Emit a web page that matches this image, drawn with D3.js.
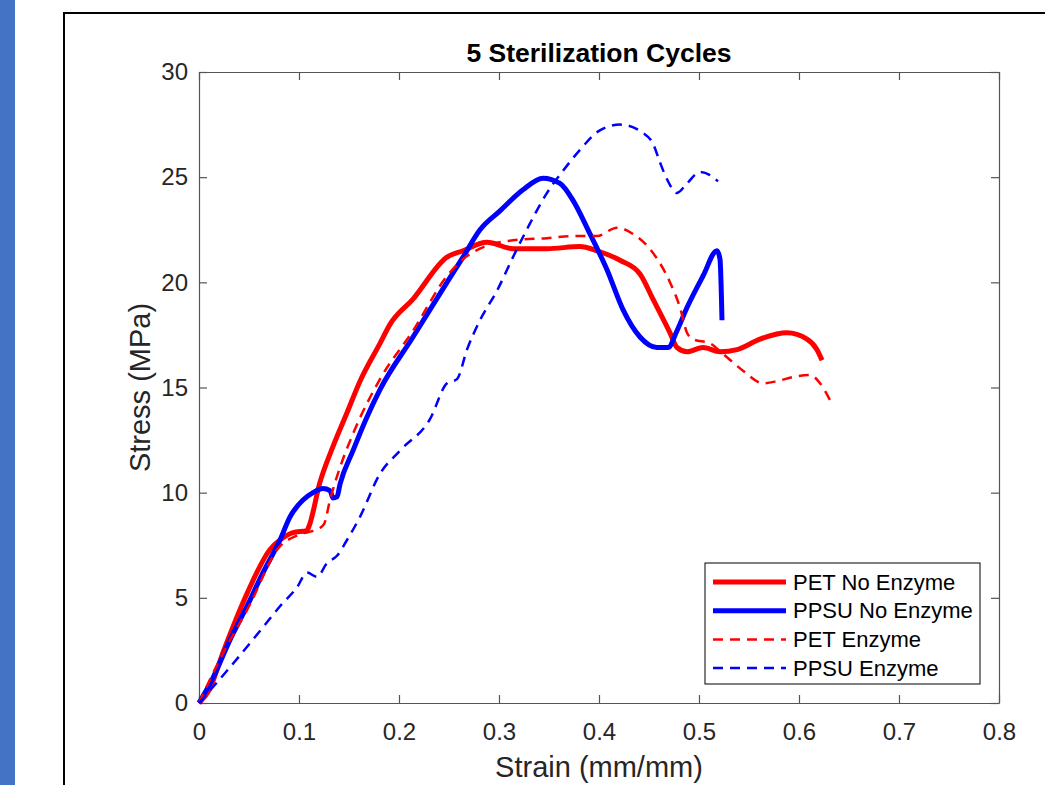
<!DOCTYPE html>
<html>
<head>
  <meta charset="utf-8">
  <script src="https://d3js.org/d3.v7.min.js"></script>
  <style>
    body { margin: 0; background: #fff; }
    text { font-family: "Liberation Sans", Arial, sans-serif; }
    .axis text { font-size: 24px; fill: #262626; }
    .axis path, .axis line { stroke: #555; stroke-width: 1.2px; }
    .axis-label { font-size: 29px; fill: #262626; text-anchor: middle; }
    .title { font-size: 26.5px; font-weight: bold; text-anchor: middle; fill: #000; }
    .legend-text { font-size: 22px; fill: #000; }
  </style>
</head>
<body>
  <svg width="1045" height="785"></svg>
  <script>
    // PET No Enzyme (solid red)
    var petNoStrain = [0, 0.01, 0.024, 0.048, 0.071, 0.081, 0.094, 0.108, 0.11, 0.121, 0.134, 0.148, 0.161, 0.181, 0.191, 0.214, 0.248, 0.264, 0.288, 0.314, 0.348, 0.381, 0.398, 0.421, 0.441, 0.454, 0.471, 0.478, 0.488, 0.504, 0.521, 0.538, 0.561, 0.588, 0.608, 0.618, 0.623];
    var petNoStress = [0, 0.6, 2.4, 5.2, 7.3, 7.75, 8.1, 8.2, 8.4, 10.5, 12.2, 13.8, 15.3, 17.1, 18.0, 19.2, 21.2, 21.5, 21.9, 21.6, 21.6, 21.7, 21.5, 21.05, 20.4, 19.2, 17.6, 16.9, 16.7, 16.9, 16.7, 16.8, 17.3, 17.6, 17.3, 16.8, 16.3];

    // PPSU No Enzyme (solid blue)
    var ppsuNoStrain = [0, 0.014, 0.031, 0.048, 0.064, 0.081, 0.091, 0.104, 0.114, 0.124, 0.131, 0.134, 0.138, 0.141, 0.154, 0.168, 0.181, 0.214, 0.248, 0.264, 0.281, 0.301, 0.324, 0.344, 0.361, 0.374, 0.391, 0.408, 0.424, 0.441, 0.458, 0.469, 0.478, 0.488, 0.504, 0.518, 0.521, 0.523];
    var ppsuNoStress = [0, 1.2, 3.0, 4.6, 6.2, 7.75, 8.85, 9.65, 10.0, 10.2, 10.1, 9.75, 9.8, 10.4, 12.0, 13.6, 14.9, 17.4, 20.0, 21.2, 22.5, 23.4, 24.4, 24.95, 24.7, 23.9, 22.3, 20.6, 18.7, 17.4, 16.9, 16.9, 17.7, 18.8, 20.3, 21.5, 21.1, 18.2];

    // PET Enzyme (dashed red)
    var petEnzStrain = [0, 0.02, 0.05, 0.08, 0.10, 0.12, 0.125, 0.131, 0.141, 0.154, 0.181, 0.214, 0.248, 0.264, 0.281, 0.314, 0.348, 0.374, 0.398, 0.418, 0.434, 0.454, 0.471, 0.481, 0.488, 0.494, 0.511, 0.524, 0.544, 0.564, 0.578, 0.594, 0.611, 0.621, 0.631];
    var petEnzStress = [0, 2.0, 4.6, 7.4, 8.0, 8.3, 8.5, 9.65, 11.2, 12.8, 15.4, 17.7, 20.3, 21.1, 21.6, 22.0, 22.1, 22.2, 22.2, 22.6, 22.3, 21.4, 20.0, 18.8, 17.6, 17.3, 17.1, 16.6, 15.8, 15.2, 15.3, 15.5, 15.6, 15.2, 14.4];

    // PPSU Enzyme (dashed blue)
    var ppsuEnzStrain = [0, 0.031, 0.064, 0.081, 0.098, 0.108, 0.118, 0.128, 0.138, 0.148, 0.161, 0.181, 0.201, 0.231, 0.248, 0.258, 0.268, 0.281, 0.298, 0.314, 0.331, 0.348, 0.364, 0.381, 0.40, 0.421, 0.444, 0.454, 0.461, 0.468, 0.478, 0.488, 0.501, 0.511, 0.519];
    var ppsuEnzStress = [0, 1.7, 3.6, 4.6, 5.5, 6.2, 6.0, 6.65, 7.0, 7.75, 8.85, 10.9, 12.0, 13.5, 15.2, 15.4, 16.8, 18.2, 19.6, 21.2, 22.8, 24.25, 25.3, 26.3, 27.2, 27.5, 27.1, 26.6, 25.7, 24.9, 24.25, 24.7, 25.25, 25.1, 24.8];

    var xTicks = [0, 0.1, 0.2, 0.3, 0.4, 0.5, 0.6, 0.7, 0.8];
    var yTicks = [0, 5, 10, 15, 20, 25, 30];

    var series = [
      {name: "PET No Enzyme", x: petNoStrain, y: petNoStress, color: "#ff0000", width: 5, dash: null},
      {name: "PPSU No Enzyme", x: ppsuNoStrain, y: ppsuNoStress, color: "#0000ff", width: 5, dash: null},
      {name: "PET Enzyme", x: petEnzStrain, y: petEnzStress, color: "#ff0000", width: 2.5, dash: "10,7"},
      {name: "PPSU Enzyme", x: ppsuEnzStrain, y: ppsuEnzStress, color: "#0000ff", width: 2.5, dash: "10,7"}
    ];

    var svg = d3.select("svg");
    var margin = {top: 72, left: 199},
        width = 800,
        height = 631;

    // slide decoration: blue strip and black frame
    svg.append("rect").attr("x", 0).attr("y", 0).attr("width", 15).attr("height", 785).attr("fill", "#4472c4");
    svg.append("rect").attr("x", 64).attr("y", 13).attr("width", 1100).attr("height", 900)
      .attr("fill", "#fff").attr("stroke", "#000").attr("stroke-width", 2);

    var g = svg.append("g").attr("transform", "translate(" + margin.left + "," + margin.top + ")");

    var x = d3.scaleLinear().domain([0, 0.8]).range([0, width]);
    var y = d3.scaleLinear().domain([0, 30]).range([height, 0]);

    g.append("g").attr("class", "axis")
      .attr("transform", "translate(0," + height + ")")
      .call(d3.axisBottom(x).tickValues(xTicks).tickFormat(d3.format("")).tickSizeInner(-8).tickSizeOuter(0).tickPadding(20));
    g.append("g").attr("class", "axis")
      .call(d3.axisTop(x).tickValues(xTicks).tickFormat("").tickSizeInner(-8).tickSizeOuter(0));
    g.append("g").attr("class", "axis")
      .call(d3.axisLeft(y).tickValues(yTicks).tickSizeInner(-8).tickSizeOuter(0).tickPadding(11));
    g.append("g").attr("class", "axis")
      .attr("transform", "translate(" + width + ",0)")
      .call(d3.axisRight(y).tickValues(yTicks).tickFormat("").tickSizeInner(-8).tickSizeOuter(0));

    var line = d3.line().curve(d3.curveMonotoneX).x(d => x(d[0])).y(d => y(d[1]));

    series.forEach(function(s) {
      g.append("path")
        .datum(s.x.map((v, i) => [v, s.y[i]]))
        .attr("fill", "none")
        .attr("stroke", s.color)
        .attr("stroke-width", s.width)
        .attr("stroke-linejoin", "round")
        .attr("stroke-dasharray", s.dash)
        .attr("d", line);
    });

    // title and axis labels
    svg.append("text").attr("class", "title").attr("x", margin.left + width / 2).attr("y", 62).text("5 Sterilization Cycles");
    svg.append("text").attr("class", "axis-label").attr("x", margin.left + width / 2).attr("y", 777).text("Strain (mm/mm)");
    svg.append("text").attr("class", "axis-label")
      .attr("transform", "translate(150," + (margin.top + height / 2) + ") rotate(-90)")
      .text("Stress (MPa)");

    // legend
    var legend = svg.append("g").attr("transform", "translate(705,563)");
    legend.append("rect").attr("width", 275).attr("height", 121)
      .attr("fill", "#fff").attr("stroke", "#000").attr("stroke-width", 1);
    series.forEach(function(s, i) {
      var ly = 19 + i * 28.7;
      legend.append("line")
        .attr("x1", 8).attr("x2", 81).attr("y1", ly).attr("y2", ly)
        .attr("stroke", s.color).attr("stroke-width", s.width)
        .attr("stroke-dasharray", s.dash);
      legend.append("text").attr("class", "legend-text")
        .attr("x", 88).attr("y", ly).attr("dy", "0.35em").text(s.name);
    });
  </script>
</body>
</html>
